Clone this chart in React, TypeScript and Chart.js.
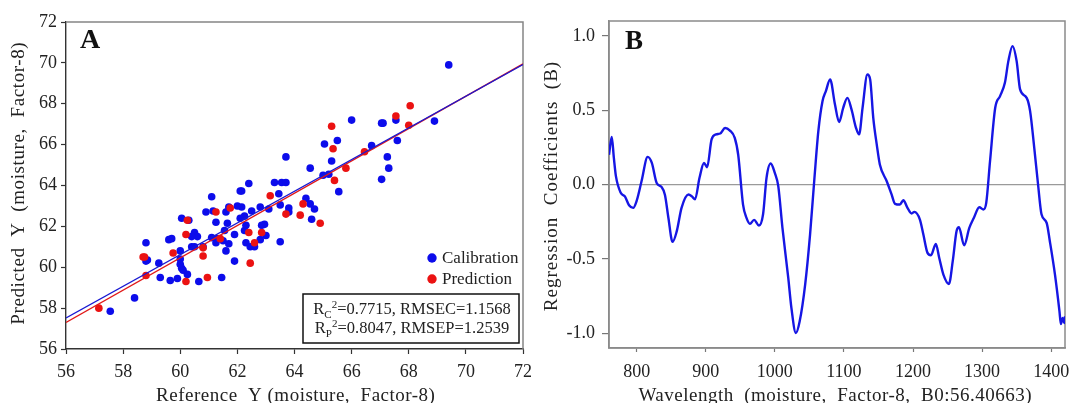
import React, { useEffect, useRef } from "react";
import { Chart, registerables } from "chart.js";

Chart.register(...registerables);

// ---------- Panel A data ----------
const calX = [69.4, 68.9, 66.0, 67.05, 67.1, 67.55, 67.6, 66.7, 65.05, 65.5, 65.3, 67.25, 67.3, 67.05, 65.2, 65.0, 65.55, 64.55, 63.7, 63.3, 63.55, 63.7, 63.45, 62.4, 62.1, 62.15, 61.1, 64.4, 63.5, 63.8, 63.8, 64.55, 64.7, 64.6, 62.8, 63.1, 62.0, 62.15, 61.7, 61.6, 62.5, 62.25, 62.1, 60.9, 61.25, 61.65, 61.15, 60.05, 60.3, 61.55, 61.9, 62.25, 62.3, 62.95, 62.85, 63.0, 62.8, 63.5, 62.3, 62.45, 62.6, 61.1, 61.3, 61.5, 61.25, 61.7, 61.6, 61.9, 61.45, 60.5, 60.6, 60.4, 60.4, 60.5, 60.8, 59.6, 59.7, 60.0, 60.0, 60.0, 60.05, 60.1, 60.25, 59.9, 59.65, 60.65, 59.25, 59.3, 58.8, 58.85, 58.8, 58.4, 57.55];
const calY = [69.9, 67.15, 67.2, 67.05, 67.05, 67.2, 66.2, 65.95, 66.03, 66.2, 65.2, 65.4, 64.85, 64.3, 64.55, 64.5, 63.7, 64.85, 65.4, 64.15, 64.15, 64.15, 63.6, 64.1, 63.73, 63.73, 63.45, 63.37, 63.05, 62.9, 62.7, 63.1, 62.85, 62.35, 62.95, 62.85, 63.0, 62.95, 62.95, 62.7, 62.75, 62.5, 62.4, 62.7, 62.2, 62.15, 62.75, 62.4, 62.3, 61.8, 61.6, 61.8, 62.05, 62.1, 62.05, 61.55, 61.35, 61.25, 61.2, 61.0, 61.0, 61.45, 61.4, 61.3, 61.2, 61.15, 60.8, 60.3, 59.5, 61.7, 61.5, 61.5, 61.0, 61.0, 61.0, 61.35, 61.4, 60.8, 60.4, 60.15, 59.95, 59.85, 59.65, 59.45, 59.35, 59.3, 60.2, 59.5, 61.2, 60.35, 60.3, 58.5, 57.85];
const predX = [57.15, 58.8, 58.7, 58.75, 59.75, 60.2, 60.25, 60.8, 60.8, 60.2, 60.95, 61.25, 61.4, 61.75, 62.4, 62.6, 62.45, 62.85, 63.15, 63.7, 64.3, 64.2, 64.9, 65.4, 65.8, 65.35, 65.3, 66.45, 67.55, 68.05, 68.0];
const predY = [58.0, 59.6, 60.5, 60.5, 60.7, 61.6, 62.3, 60.55, 60.95, 59.3, 59.5, 62.7, 61.4, 62.9, 61.7, 61.2, 60.2, 61.7, 63.5, 62.6, 63.1, 62.55, 62.15, 64.25, 64.85, 65.8, 66.9, 65.65, 67.4, 67.9, 66.95];
const calFitX = [56, 72];
const calFitY = [57.52, 69.92];
const predFitX = [56, 72];
const predFitY = [57.3, 69.95];
const axisTicksA = [56, 58, 60, 62, 64, 66, 68, 70, 72];

// ---------- Panel B data ----------
const wavelength = [760, 764, 767, 770, 777, 783, 789, 795, 800, 807, 816, 822, 829, 836, 841, 846, 852, 858, 865, 875, 880, 884.5, 891, 897.5, 902, 908.5, 915, 921, 928, 935, 942, 947, 954, 959, 964, 970, 977, 983, 988, 994, 1000, 1005, 1011, 1019.5, 1024, 1030.5, 1036, 1044, 1051, 1057, 1063, 1069, 1074, 1080, 1087, 1093, 1099, 1105, 1111, 1117.5, 1122, 1127, 1134, 1138, 1142.5, 1147.5, 1152, 1162, 1169, 1174, 1181, 1186, 1192, 1198, 1202, 1210, 1215, 1221, 1226, 1233, 1238, 1244, 1252, 1257.5, 1263, 1266.5, 1274, 1281.5, 1288, 1296, 1302, 1306, 1311.5, 1319, 1326, 1333, 1338, 1344, 1350, 1355, 1364.5, 1369.5, 1375.5, 1381, 1386, 1393.5, 1398, 1405.5, 1412, 1414, 1416.5, 1419, 1420];
const coefficient = [0.2, 0.32, 0.18, 0.056, -0.056, -0.08, -0.14, -0.157, -0.11, 0.02, 0.186, 0.145, 0.01, -0.016, -0.07, -0.225, -0.386, -0.315, -0.157, -0.067, -0.08, -0.1, 0.045, 0.145, 0.116, 0.303, 0.337, 0.343, 0.38, 0.363, 0.314, 0.2, -0.135, -0.225, -0.265, -0.238, -0.276, -0.2, 0.045, 0.141, 0.078, -0.011, -0.29, -0.63, -0.83, -0.999, -0.92, -0.67, -0.337, 0.022, 0.359, 0.56, 0.63, 0.707, 0.54, 0.42, 0.516, 0.583, 0.505, 0.381, 0.337, 0.516, 0.74, 0.707, 0.449, 0.27, 0.135, 0.022, -0.067, -0.13, -0.135, -0.106, -0.157, -0.195, -0.184, -0.236, -0.337, -0.46, -0.476, -0.4, -0.494, -0.606, -0.669, -0.516, -0.315, -0.288, -0.409, -0.292, -0.225, -0.153, -0.168, -0.124, 0.157, 0.516, 0.595, 0.684, 0.83, 0.931, 0.83, 0.64, 0.583, 0.494, 0.247, 0.0, -0.2, -0.259, -0.38, -0.606, -0.853, -0.939, -0.898, -0.932, -0.887];
const axisTicksBX = [800, 900, 1000, 1100, 1200, 1300, 1400];
const axisTicksBY = [-1.0, -0.5, 0.0, 0.5, 1.0];

const SERIF = "'Liberation Serif', 'Times New Roman', serif";
const BLUE = "rgb(12,12,235)";
const RED = "rgb(235,18,18)";

const zip = (xs: number[], ys: number[]) => xs.map((x, i) => ({ x, y: ys[i] }));

function drawSubLine(ctx: CanvasRenderingContext2D, cx: number, cy: number, sub: string, rest: string, size: number) {
  const big = `${size}px ${SERIF}`;
  const small = `${Math.round(size * 0.68)}px ${SERIF}`;
  ctx.font = big;
  const wR = ctx.measureText("R").width;
  const wRest = ctx.measureText(rest).width;
  ctx.font = small;
  const wSub = ctx.measureText(sub).width;
  const wSup = ctx.measureText("2").width;
  const total = wR + wSub + wSup + wRest;
  let x = cx - total / 2;
  ctx.textBaseline = "alphabetic";
  ctx.textAlign = "left";
  const base = cy + size * 0.33;
  ctx.font = big;
  ctx.fillText("R", x, base);
  x += wR;
  ctx.font = small;
  ctx.fillText(sub, x, base + size * 0.22);
  x += wSub;
  ctx.fillText("2", x, base - size * 0.38);
  x += wSup;
  ctx.font = big;
  ctx.fillText(rest, x, base);
}

function drawTitle(ctx: any, text: string, x: number, y: number, rot: number, size: number, spacing: number) {
  ctx.save();
  ctx.translate(x, y);
  ctx.rotate(rot);
  ctx.font = `${size}px ${SERIF}`;
  ctx.fillStyle = "#222";
  ctx.textAlign = "center";
  ctx.textBaseline = "middle";
  try { ctx.letterSpacing = `${spacing}px`; } catch (e) {}
  ctx.fillText(text, spacing / 2, 0);
  ctx.restore();
}

const decorA = {
  id: "decorA",
  beforeDatasetsDraw(chart: any) {
    const { ctx, chartArea: a } = chart;
    ctx.save();
    ctx.strokeStyle = "#858585";
    ctx.lineWidth = 1.5;
    ctx.beginPath();
    ctx.moveTo(a.left, a.top);
    ctx.lineTo(a.right, a.top);
    ctx.lineTo(a.right, a.bottom);
    ctx.stroke();
    ctx.restore();
  },
  afterDraw(chart: any) {
    const { ctx, chartArea: a } = chart;
    drawTitle(ctx, "Predicted  Y  (moisture,  Factor-8)", 19, (a.top + a.bottom) / 2 - 2, -Math.PI / 2, 19, 0.6);
    drawTitle(ctx, "Reference  Y (moisture,  Factor-8)", (a.left + a.right) / 2 + 1, 396, 0, 19, 0.5);
  },
  afterDatasetsDraw(chart: any) {
    const { ctx, chartArea: a } = chart;
    ctx.save();
    ctx.fillStyle = "#111";
    ctx.font = `bold 28px ${SERIF}`;
    ctx.textAlign = "left";
    ctx.textBaseline = "alphabetic";
    ctx.fillText("A", a.left + 14, a.top + 26);
    const lx = a.right - 91;
    const items = [
      { label: "Calibration", color: BLUE, y: a.bottom - 91 },
      { label: "Prediction", color: RED, y: a.bottom - 70 },
    ];
    ctx.font = `17px ${SERIF}`;
    ctx.textBaseline = "middle";
    for (const it of items) {
      ctx.fillStyle = it.color;
      ctx.beginPath();
      ctx.arc(lx, it.y, 4.7, 0, Math.PI * 2);
      ctx.fill();
      ctx.fillStyle = "#222";
      ctx.fillText(it.label, lx + 10, it.y + 1);
    }
    const bx = a.right - 220, by = a.bottom - 55, bw = 216, bh = 49;
    ctx.fillStyle = "#fff";
    ctx.fillRect(bx, by, bw, bh);
    ctx.strokeStyle = "#111";
    ctx.lineWidth = 1.5;
    ctx.strokeRect(bx, by, bw, bh);
    ctx.fillStyle = "#222";
    drawSubLine(ctx, bx + bw / 2 + 1, by + 14.5, "C", "=0.7715, RMSEC=1.1568", 16.5);
    drawSubLine(ctx, bx + bw / 2 + 1, by + 33.5, "P", "=0.8047, RMSEP=1.2539", 16.5);
    ctx.restore();
  },
};

const decorB = {
  id: "decorB",
  beforeDatasetsDraw(chart: any) {
    const { ctx, chartArea: a } = chart;
    ctx.save();
    ctx.strokeStyle = "#8a8a8a";
    ctx.lineWidth = 1.5;
    ctx.strokeRect(a.left, a.top, a.right - a.left, a.bottom - a.top);
    ctx.restore();
  },
  afterDraw(chart: any) {
    const { ctx, chartArea: a } = chart;
    drawTitle(ctx, "Regression  Coefficients  (B)", 17.5, (a.top + a.bottom) / 2 + 2, -Math.PI / 2, 19, 1);
    drawTitle(ctx, "Wavelength  (moisture,  Factor-8,  B0:56.40663)", 300, 396, 0, 19, 0.5);
  },
  afterDatasetsDraw(chart: any) {
    const { ctx, chartArea: a } = chart;
    ctx.save();
    ctx.fillStyle = "#111";
    ctx.font = `bold 27px ${SERIF}`;
    ctx.textAlign = "left";
    ctx.textBaseline = "alphabetic";
    ctx.fillText("B", a.left + 16, a.top + 28);
    ctx.restore();
  },
};

function PanelA() {
  const ref = useRef<HTMLCanvasElement>(null);
  useEffect(() => {
    const chart = new Chart(ref.current!, {
      type: "scatter",
      data: {
        datasets: [
          { type: "line", data: zip(calFitX, calFitY), borderColor: "rgb(25,25,210)", borderWidth: 1.4, pointRadius: 0, fill: false } as any,
          { type: "line", data: zip(predFitX, predFitY), borderColor: "rgb(225,25,25)", borderWidth: 1.4, pointRadius: 0, fill: false } as any,
          { label: "Prediction", data: zip(predX, predY), backgroundColor: RED, borderWidth: 0, pointRadius: 3.8 },
          { label: "Calibration", data: zip(calX, calY), backgroundColor: BLUE, borderWidth: 0, pointRadius: 3.8 },
        ],
      },
      options: {
        animation: false,
        responsive: false,
        devicePixelRatio: 1,
        layout: { padding: { top: 22, right: 12, left: 0, bottom: 0 } },
        plugins: { legend: { display: false }, tooltip: { enabled: false } },
        scales: {
          x: {
            type: "linear",
            min: 56,
            max: 72,
            afterBuildTicks: (s: any) => { s.ticks = axisTicksA.map((v) => ({ value: v })); },
            afterFit: (s: any) => { s.height = 63; s.paddingLeft = 0; s.paddingRight = 0; },
            ticks: { color: "#222", font: { family: SERIF, size: 18 }, padding: 7 },
            grid: { drawOnChartArea: false, tickLength: 5, tickColor: "#333", tickWidth: 1.2 },
            border: { color: "#333", width: 1.4 },
            title: { display: false },
          },
          y: {
            type: "linear",
            min: 56,
            max: 72,
            afterBuildTicks: (s: any) => { s.ticks = axisTicksA.map((v) => ({ value: v })); },
            afterFit: (s: any) => { s.width = 66; s.paddingTop = 0; s.paddingBottom = 0; },
            ticks: { color: "#222", font: { family: SERIF, size: 18 }, padding: 4 },
            grid: { drawOnChartArea: false, tickLength: 5, tickColor: "#333", tickWidth: 1.2 },
            border: { color: "#333", width: 1.4 },
            title: { display: false },
          },
        },
      },
      plugins: [decorA],
    } as any);
    return () => chart.destroy();
  }, []);
  return <canvas ref={ref} width={535} height={412} style={{ position: "absolute", left: 0, top: 0, width: 535, height: 412 }} />;
}

function PanelB() {
  const ref = useRef<HTMLCanvasElement>(null);
  useEffect(() => {
    const chart = new Chart(ref.current!, {
      type: "line",
      data: {
        datasets: [
          {
            data: zip(wavelength, coefficient),
            borderColor: "rgb(22,22,228)",
            borderWidth: 2.4,
            pointRadius: 0,
            fill: false,
            cubicInterpolationMode: "monotone",
          },
        ],
      },
      options: {
        animation: false,
        responsive: false,
        devicePixelRatio: 1,
        layout: { padding: { top: 21, right: 6, left: 0, bottom: 0 } },
        plugins: { legend: { display: false }, tooltip: { enabled: false } },
        scales: {
          x: {
            type: "linear",
            min: 760,
            max: 1420,
            afterBuildTicks: (s: any) => { s.ticks = axisTicksBX.map((v) => ({ value: v })); },
            afterFit: (s: any) => { s.height = 64; s.paddingLeft = 0; s.paddingRight = 0; },
            ticks: { color: "#222", font: { family: SERIF, size: 18 }, padding: 9, callback: (v: any) => String(v) },
            grid: { drawOnChartArea: false, tickLength: 4, tickColor: "#777", tickWidth: 1.2 },
            border: { color: "#8a8a8a", width: 1.5 },
            title: { display: false },
          },
          y: {
            type: "linear",
            min: -1.1,
            max: 1.1,
            afterBuildTicks: (s: any) => { s.ticks = axisTicksBY.map((v) => ({ value: v })); },
            afterFit: (s: any) => { s.width = 74; s.paddingTop = 0; s.paddingBottom = 0; },
            ticks: { color: "#222", font: { family: SERIF, size: 18 }, padding: 7, callback: (v: any) => Number(v).toFixed(1) },
            grid: {
              drawOnChartArea: true,
              color: (c: any) => (c.tick && c.tick.value === 0 ? "#9a9a9a" : "rgba(0,0,0,0)"),
              lineWidth: 1.2,
              tickLength: 7,
              tickColor: "#777",
              tickWidth: 1.2,
            },
            border: { color: "#8a8a8a", width: 1.5 },
            title: { display: false },
          },
        },
      },
      plugins: [decorB],
    } as any);
    return () => chart.destroy();
  }, []);
  return <canvas ref={ref} width={536} height={412} style={{ position: "absolute", left: 535, top: 0, width: 536, height: 412 }} />;
}

export default function App() {
  return (
    <div style={{ position: "absolute", left: 0, top: 0, width: 1071, height: 403, overflow: "hidden", background: "#fff" }}>
      <PanelA />
      <PanelB />
    </div>
  );
}
